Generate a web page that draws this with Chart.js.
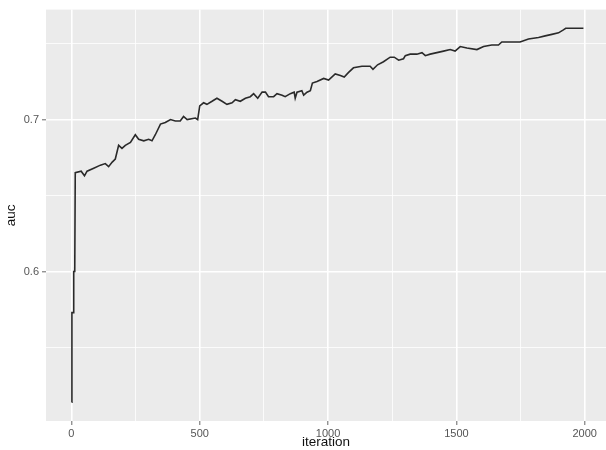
<!DOCTYPE html>
<html>
<head>
<meta charset="utf-8">
<script src="https://cdn.jsdelivr.net/npm/chart.js@4/dist/chart.umd.min.js"></script>
<style>
  body { margin: 0; background: #fff; }
  #chart-root { width: 606px; height: 450px; }
</style>
</head>
<body>
<div id="chart-root"><canvas id="chart-main"></canvas></div>
<script>
const iterations = [1, 2, 8, 9, 13, 15, 38, 51, 61, 87,
    113, 132, 145, 159, 171, 184, 197, 210, 230, 249,
    262, 282, 301, 314, 327, 347, 366, 386, 405, 424,
    437, 451, 483, 492, 500, 515, 528, 548, 567, 587,
    606, 626, 639, 658, 678, 697, 710, 726, 743, 756,
    768, 788, 801, 821, 833, 853, 868, 872, 879, 898,
    905, 918, 931, 939, 957, 983, 1002, 1028, 1048, 1063,
    1080, 1099, 1132, 1152, 1164, 1175, 1193, 1216, 1242, 1258,
    1275, 1294, 1301, 1320, 1346, 1366, 1379, 1398, 1424, 1450,
    1476, 1495, 1515, 1541, 1580, 1606, 1638, 1664, 1677, 1748,
    1781, 1820, 1846, 1872, 1898, 1917, 1926, 1995];
const auc = [0.514, 0.573, 0.573, 0.600, 0.600, 0.665, 0.666, 0.663, 0.666, 0.668,
    0.670, 0.671, 0.669, 0.672, 0.674, 0.683, 0.681, 0.683, 0.685, 0.690,
    0.687, 0.686, 0.687, 0.686, 0.690, 0.697, 0.698, 0.700, 0.699, 0.699,
    0.702, 0.700, 0.701, 0.700, 0.709, 0.711, 0.710, 0.712, 0.714, 0.712,
    0.710, 0.711, 0.713, 0.712, 0.714, 0.715, 0.717, 0.714, 0.718, 0.718,
    0.715, 0.715, 0.717, 0.716, 0.715, 0.717, 0.718, 0.714, 0.718, 0.719,
    0.716, 0.718, 0.719, 0.724, 0.725, 0.727, 0.726, 0.730, 0.729, 0.728,
    0.731, 0.734, 0.735, 0.735, 0.735, 0.733, 0.736, 0.738, 0.741, 0.741,
    0.739, 0.740, 0.742, 0.743, 0.743, 0.744, 0.742, 0.743, 0.744, 0.745,
    0.746, 0.745, 0.748, 0.747, 0.746, 0.748, 0.749, 0.749, 0.751, 0.751,
    0.753, 0.754, 0.755, 0.756, 0.757, 0.759, 0.760, 0.760];

const xMajorTicks = [0, 500, 1000, 1500, 2000];
const xMinorTicks = [250, 750, 1250, 1750];
const yMajorTicks = [0.6, 0.7];
const yMinorTicks = [0.55, 0.65, 0.75];

const tickFont = { family: "'Liberation Sans', Arial, sans-serif", size: 11 };
const titleFont = { family: "'Liberation Sans', Arial, sans-serif", size: 13.5 };

// ggplot-like grey panel
const panelBackground = {
    id: "panelBackground",
    beforeDraw(chart) {
        const { ctx, chartArea } = chart;
        ctx.save();
        ctx.fillStyle = "#ffffff";
        ctx.fillRect(0, 0, chart.width, chart.height);
        ctx.fillStyle = "#EBEBEB";
        ctx.fillRect(chartArea.left, chartArea.top, chartArea.right - chartArea.left, chartArea.bottom - chartArea.top);
        ctx.restore();
    }
};

function isMajor(list, value) {
    return list.some(v => Math.abs(v - value) < 1e-9);
}

function gridFor(majors) {
    return {
        color: "#ffffff",
        lineWidth: ctx => isMajor(majors, ctx.tick.value) ? 1.6 : 0.8,
        tickColor: ctx => isMajor(majors, ctx.tick.value) ? "#666666" : "rgba(0,0,0,0)",
        tickWidth: 1,
        tickLength: 4,
        drawTicks: true
    };
}

const points = iterations.map((it, i) => ({ x: it, y: auc[i] }));

new Chart(document.getElementById("chart-main"), {
    type: "line",
    data: {
        datasets: [{
            data: points,
            borderColor: "#2a2a2a",
            borderWidth: 1.6,
            pointRadius: 0,
            tension: 0,
            fill: false
        }]
    },
    plugins: [panelBackground],
    options: {
        responsive: true,
        maintainAspectRatio: false,
        animation: false,
        layout: { padding: { top: 7, right: 0, bottom: 0, left: 0 } },
        plugins: {
            legend: { display: false },
            tooltip: { enabled: false }
        },
        scales: {
            x: {
                type: "linear",
                min: -99,
                max: 2083,
                afterBuildTicks: scale => {
                    scale.ticks = xMajorTicks.concat(xMinorTicks).sort((a, b) => a - b).map(v => ({ value: v }));
                },
                afterFit: scale => { scale.height = 29; },
                border: { display: false },
                grid: gridFor(xMajorTicks),
                ticks: {
                    autoSkip: false,
                    maxRotation: 0,
                    padding: 2,
                    color: "#555555",
                    font: tickFont,
                    callback: value => isMajor(xMajorTicks, value) ? String(value) : ""
                },
                title: {
                    display: true,
                    text: "iteration",
                    color: "#111111",
                    font: titleFont,
                    padding: { top: 0, bottom: 0 }
                }
            },
            y: {
                type: "linear",
                min: 0.5017,
                max: 0.7723,
                afterBuildTicks: scale => {
                    scale.ticks = yMajorTicks.concat(yMinorTicks).sort((a, b) => a - b).map(v => ({ value: v }));
                },
                afterFit: scale => { scale.width = 46; },
                border: { display: false },
                grid: gridFor(yMajorTicks),
                ticks: {
                    autoSkip: false,
                    padding: 3,
                    color: "#555555",
                    font: tickFont,
                    callback: value => isMajor(yMajorTicks, value) ? value.toFixed(1) : ""
                },
                title: {
                    display: true,
                    text: "auc",
                    color: "#111111",
                    font: titleFont,
                    padding: { top: 3, bottom: 0 }
                }
            }
        }
    }
});
</script>
</body>
</html>
